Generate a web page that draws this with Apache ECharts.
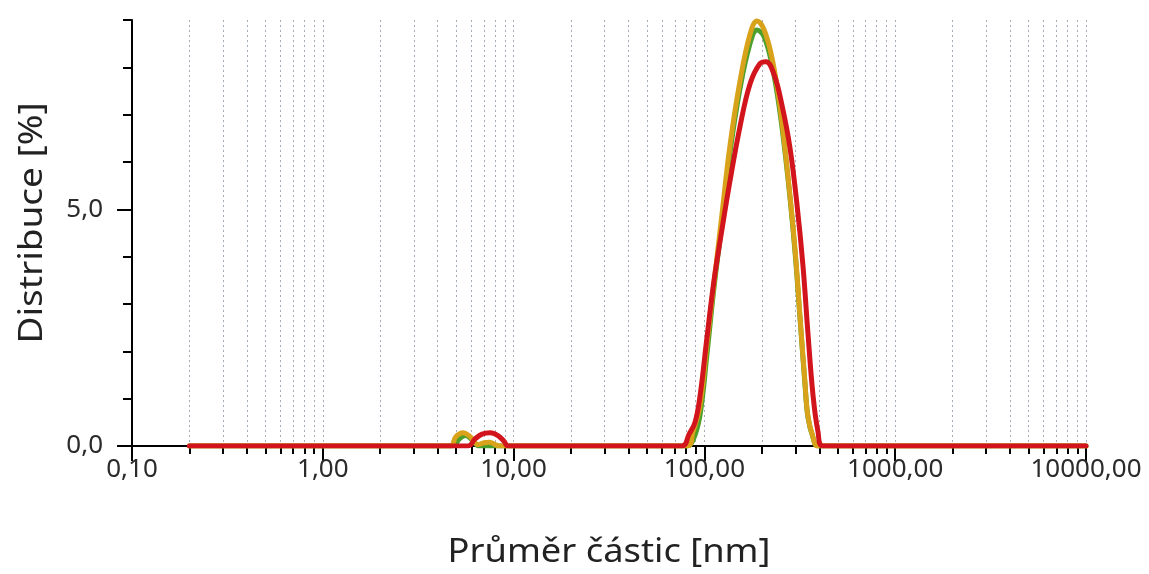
<!DOCTYPE html>
<html>
<head>
<meta charset="utf-8">
<script src="https://cdn.jsdelivr.net/npm/echarts@6/dist/echarts.min.js"></script>
<style>
  html, body { margin: 0; padding: 0; background: #fff; }
  #chart { width: 1149px; height: 574px; }
</style>
</head>
<body>
<div id="chart"></div>
<script>
// Particle size distribution (DLS), three measurements
const sizesGreen  = [0.2, 4.8, 5.2, 5.6, 6.1, 6.6, 81.1, 87.1, 94.8, 103.2, 112.3, 122.2, 136.2, 153.7, 173.4, 188.7, 205.3, 226.1, 249.0, 274.2, 298.5, 317.0, 336.7, 349.1, 370.8, 393.9, 10000];
const valuesGreen = [0,   0,   0.15, 0.22, 0.12, 0,  0,    0.12, 0.65, 1.95,  3.35,  4.55,  6.2,   7.55,  8.5,   8.79,  8.65,  8.05,  7.05,  5.65,  4.1,   2.7,   1.3,   0.6,   0.18,  0,     0];

const sizesGold  = [0.2, 4.64, 4.99, 5.43, 5.91, 6.5, 7.0, 7.5, 8.0, 8.5, 81.1, 87.1, 94.8, 103.2, 112.3, 122.2, 136.2, 153.7, 173.4, 188.7, 205.3, 226.1, 249.0, 274.2, 298.5, 317.0, 336.7, 349.1, 370.8, 393.9, 10000];
const valuesGold = [0,   0,    0.2,  0.28, 0.2,  0.03, 0.07, 0.08, 0.03, 0, 0,    0.3,  0.85, 2.17,  3.45,  4.72,  6.35,  7.71,  8.7,   8.98,  8.8,   8.2,   7.17,  5.7,   4.16,  2.74,  1.33,  0.62,  0.19,  0,     0];

const sizesRed  = [0.2, 5.77, 6.28, 6.83, 7.52, 8.28, 8.91, 9.35, 76.3, 83.1, 89.3, 94.8, 103.2, 112.3, 122.2, 136.2, 153.7, 173.4, 195.6, 210.3, 231.7, 255.1, 280.9, 305.7, 328.7, 349.1, 370.8, 393.9, 418.4, 10000];
const valuesRed = [0,   0,    0.15, 0.25, 0.28, 0.22, 0.1,  0,    0,    0.25, 0.5,  1.05, 2.3,   3.5,   4.45,  5.6,   6.75,  7.65,  8.08,  8.12,  7.85,  7.2,   6.3,   5.1,   3.8,   2.37,  1.08,  0.3,   0,     0];

// Axis ticks
const xMajorTicks = [0.1, 1, 10, 100, 1000, 10000];
const xGridTicks = [];
for (let d = 0.1; d < 10000; d *= 10) {
  for (let k = 2; k <= 10; k++) xGridTicks.push(+(d * k).toPrecision(6));
}
const yLabelTicks = [0, 5];

const FONT = 'Noto Sans';
const comma = (v, digits) => v.toFixed(digits).replace('.', ',');
const pairs = (xs, ys) => xs.map((x, i) => [x, ys[i]]);

const lineSeries = (name, color, xs, ys) => ({
  name: name,
  type: 'line',
  xAxisIndex: 0,
  yAxisIndex: 0,
  data: pairs(xs, ys),
  smooth: 0.4,
  showSymbol: false,
  lineStyle: { color: color, width: 5, cap: 'round', join: 'round' },
  itemStyle: { color: color },
  z: 3
});

const chart = echarts.init(document.getElementById('chart'), null, { renderer: 'canvas' });
chart.setOption({
  animation: false,
  backgroundColor: '#ffffff',
  grid: { left: 132, right: 63, top: 20, bottom: 128, containLabel: false },
  xAxis: [
    {
      type: 'log', logBase: 10, min: 0.1, max: 10000,
      axisLine: { show: true, onZero: false, lineStyle: { color: '#000', width: 2 } },
      axisTick: { show: true, inside: false, length: 15, customValues: xMajorTicks, lineStyle: { color: '#000', width: 2 } },
      axisLabel: { show: true, customValues: xMajorTicks, margin: 11, fontFamily: FONT, fontSize: 26, color: '#2b2b2b',
                   formatter: v => comma(v, 2) },
      splitLine: { show: false },
      minorTick: { show: false }
    },
    {
      type: 'log', logBase: 10, min: 0.1, max: 10000, position: 'bottom', offset: 0,
      axisLine: { show: false },
      axisTick: { show: true, inside: false, length: 8, customValues: xGridTicks, lineStyle: { color: '#000', width: 2 } },
      axisLabel: { show: false },
      splitLine: { show: true, lineStyle: { color: '#a3acb8', width: 1, type: [2, 3] } },
      minorTick: { show: false }
    }
  ],
  yAxis: [
    {
      type: 'value', min: 0, max: 9, interval: 1,
      axisLine: { show: true, lineStyle: { color: '#000', width: 2 } },
      axisTick: { show: true, length: 9, lineStyle: { color: '#000', width: 2 } },
      axisLabel: { show: false },
      splitLine: { show: false }
    },
    {
      type: 'value', min: 0, max: 9, interval: 1, position: 'left', offset: 0,
      axisLine: { show: false },
      axisTick: { show: true, length: 15, customValues: yLabelTicks, lineStyle: { color: '#000', width: 2 } },
      axisLabel: { show: true, customValues: yLabelTicks, margin: 29, fontFamily: FONT, fontSize: 26, color: '#2b2b2b',
                   formatter: v => comma(v, 1) },
      splitLine: { show: false }
    }
  ],
  graphic: [
    { type: 'text', x: 33, y: 223, rotation: Math.PI / 2, scaleX: 1.12,
      style: { text: 'Distribuce [%]', font: '33px "Noto Sans"', fill: '#222', align: 'center', verticalAlign: 'middle' } },
    { type: 'text', x: 609, y: 553, scaleX: 1.1,
      style: { text: 'Průměr částic [nm]', font: '33px "Noto Sans"', fill: '#222', align: 'center', verticalAlign: 'middle' } }
  ],
  series: [
    lineSeries('Měření 1', '#4c9f2a', sizesGreen, valuesGreen),
    lineSeries('Měření 2', '#d9a21b', sizesGold, valuesGold),
    lineSeries('Měření 3', '#d2141c', sizesRed, valuesRed)
  ]
});
</script>
</body>
</html>
